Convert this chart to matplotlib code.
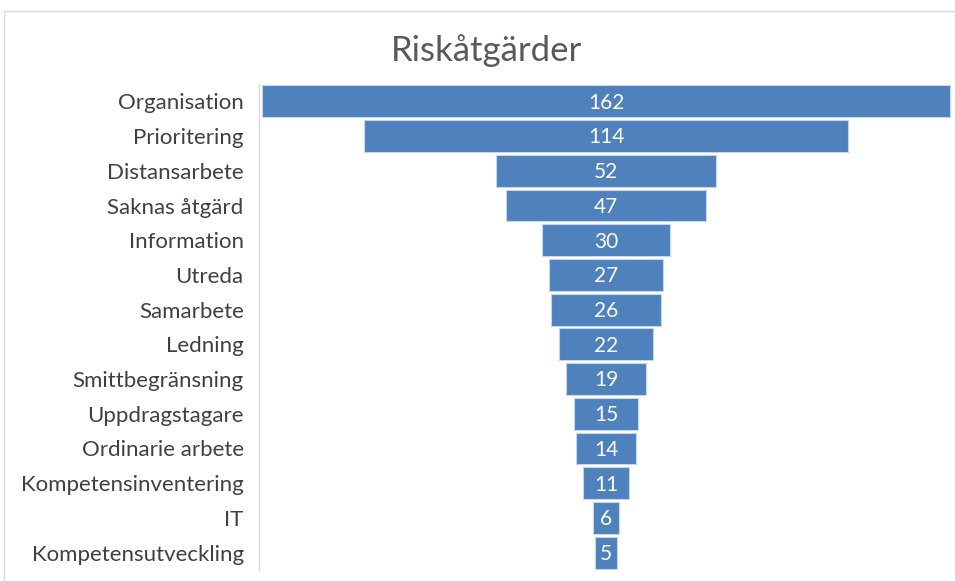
import matplotlib.pyplot as plt
from matplotlib.patches import Rectangle

categories = ['Organisation', 'Prioritering', 'Distansarbete', 'Saknas åtgärd',
              'Information', 'Utreda', 'Samarbete', 'Ledning', 'Smittbegränsning',
              'Uppdragstagare', 'Ordinarie arbete', 'Kompetensinventering', 'IT',
              'Kompetensutveckling']
values = [162, 114, 52, 47, 30, 27, 26, 22, 19, 15, 14, 11, 6, 5]
title = 'Riskåtgärder'

plt.rcParams['font.family'] = ['Lato', 'DejaVu Sans']

fig = plt.figure(figsize=(9.55, 5.81), dpi=100)
ax = fig.add_axes([259 / 955, 1 - 570 / 581, 694 / 955, 486 / 581])

# funnel: bars centred on zero
ypos = list(range(len(values)))
lefts = [-v / 2 for v in values]
ax.barh(ypos, values, left=lefts, height=0.92, color='#4f81bd',
        edgecolor='#c5d5ea', linewidth=0.8)
for y, v in zip(ypos, values):
    ax.text(0, y + 0.04, str(v), ha='center', va='center', color='white', fontsize=15)

ax.set_xlim(-81.7, 81.7)
ax.set_ylim(len(values) - 0.5, -0.5)
ax.set_yticks(ypos)
ax.set_yticklabels(categories, fontsize=16, color='#404040')
ax.tick_params(axis='y', length=0, pad=11)
ax.set_xticks([])
for s in ['top', 'right', 'bottom']:
    ax.spines[s].set_visible(False)
ax.spines['left'].set_color('#d9d9d9')
ax.spines['left'].set_linewidth(1)

fig.text(486 / 955, 1 - 51 / 581, title, ha='center', va='center',
         fontsize=25, color='#595959')

# chart area border (cropped)
fig.patches.append(Rectangle((4 / 955, -0.1), 1.1, 1 - 11 / 581 + 0.1,
                             transform=fig.transFigure, fill=False,
                             edgecolor='#d9d9d9', linewidth=1))

fig.savefig('out.png', dpi=100)
